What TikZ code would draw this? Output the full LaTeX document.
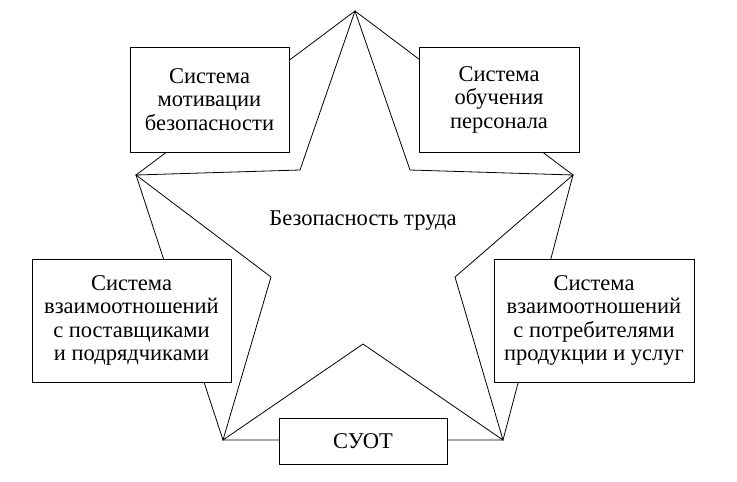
\documentclass[tikz,border=0pt]{standalone}
\usepackage{fontspec}
\setmainfont{Liberation Serif}
\usepackage{tikz}
\tikzset{box style/.style={
		draw=black,
		line width=0.9pt,
		fill=white,
		text=black,
		rectangle,
		align=center,
		inner sep=0pt,
		font=\fontsize{22.5}{23.5}\selectfont,
	},
	star style/.style={
		draw=black,
		line width=0.8pt,
		line join=miter,
	},
	title style/.style={
		text=black,
		inner sep=0pt,
		font=\fontsize{22.5}{23.5}\selectfont,
	}
}

\begin{document}
\begin{tikzpicture}[x=1pt,y=-1pt]
	\useasboundingbox (0,0) rectangle (737,482);
	
	% outer points of the star
	\coordinate (Top) at (355,11);
	\coordinate (UpLeft) at (136,175);
	\coordinate (UpRight) at (573,175);
	\coordinate (LowLeft) at (223,440);
	\coordinate (LowRight) at (503,440);
	
	% inner points of the star
	\coordinate (InUpLeft) at (300,170);
	\coordinate (InUpRight) at (410,170);
	\coordinate (InLeft) at (271,277);
	\coordinate (InRight) at (455,277);
	\coordinate (InBottom) at (363,344);
	
	\draw[star style] (Top) -- (UpRight) -- (LowRight) -- (LowLeft) -- (UpLeft) -- cycle;
	\draw[star style] (Top) -- (InUpRight) -- (UpRight) -- (InRight) -- (LowRight)
		-- (InBottom) -- (LowLeft) -- (InLeft) -- (UpLeft) -- (InUpLeft) -- cycle;
	
	\node[title style] (Safety) at (363,221) {Безопасность труда};
	
	\node[box style, minimum width=159, minimum height=105] (Motivation) at (209.5,99.5)
		{Система\\мотивации\\безопасности};
	\node[box style, minimum width=160, minimum height=105] (Training) at (499,99.5)
		{Система\\обучения\\персонала};
	\node[box style, minimum width=199, minimum height=123] (Suppliers) at (131.5,320.5)
		{Система\\взаимоотношений\\с поставщиками\\и подрядчиками};
	\node[box style, minimum width=200, minimum height=123] (Consumers) at (594,320.5)
		{Система\\взаимоотношений\\с потребителями\\продукции и услуг};
	\node[box style, minimum width=168, minimum height=46] (SUOT) at (363,441) {СУОТ};
\end{tikzpicture}
\end{document}
